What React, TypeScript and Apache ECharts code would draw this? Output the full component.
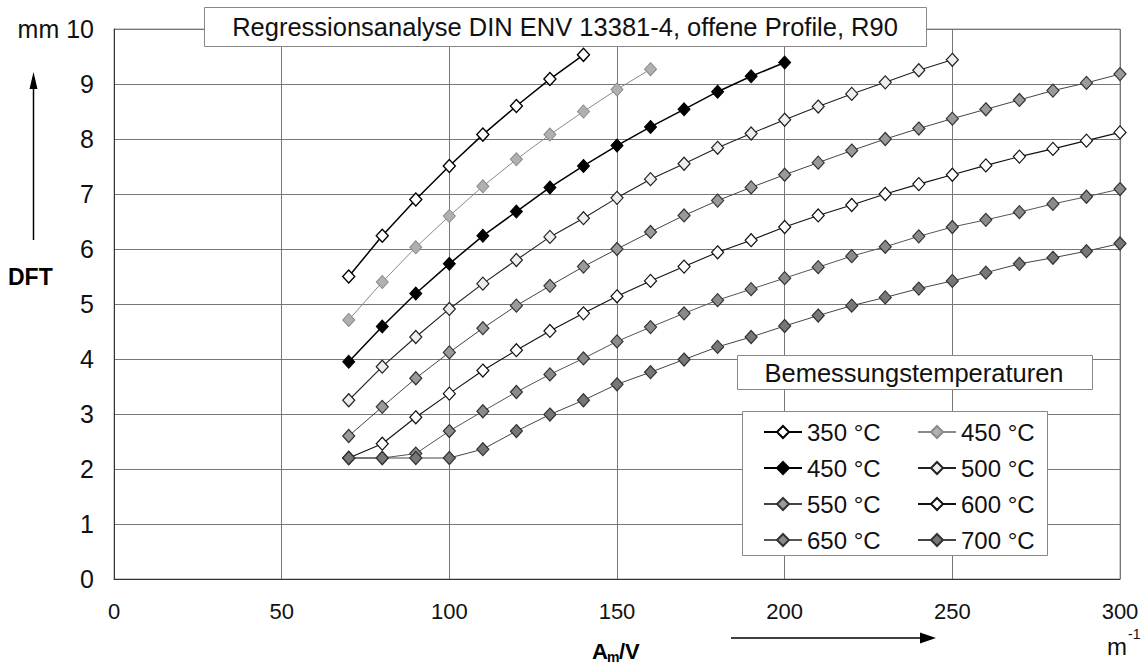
import React, { useEffect, useRef } from "react";
import * as echarts from "echarts";

// A_m/V values (m^-1)
const amv = [70, 80, 90, 100, 110, 120, 130, 140, 150, 160, 170, 180, 190, 200, 210, 220, 230, 240, 250, 260, 270, 280, 290, 300];

// DFT values (mm) per design temperature
const t350 = [5.5, 6.24, 6.9, 7.51, 8.08, 8.6, 9.09, 9.53];
const t450gray = [4.71, 5.4, 6.03, 6.6, 7.14, 7.63, 8.08, 8.5, 8.9, 9.27];
const t450black = [3.95, 4.59, 5.19, 5.73, 6.24, 6.68, 7.12, 7.51, 7.88, 8.22, 8.54, 8.86, 9.14, 9.39];
const t500 = [3.25, 3.86, 4.4, 4.91, 5.37, 5.8, 6.22, 6.56, 6.93, 7.27, 7.55, 7.84, 8.1, 8.35, 8.59, 8.82, 9.03, 9.25, 9.44];
const t550 = [2.6, 3.13, 3.65, 4.12, 4.56, 4.97, 5.33, 5.68, 6.0, 6.31, 6.61, 6.88, 7.12, 7.35, 7.57, 7.79, 8.0, 8.19, 8.37, 8.54, 8.71, 8.88, 9.02, 9.18];
const t600 = [2.2, 2.46, 2.94, 3.37, 3.79, 4.16, 4.51, 4.83, 5.14, 5.42, 5.68, 5.94, 6.16, 6.4, 6.61, 6.8, 7.0, 7.18, 7.35, 7.52, 7.68, 7.82, 7.97, 8.12];
const t650 = [2.2, 2.2, 2.28, 2.69, 3.05, 3.4, 3.72, 4.01, 4.32, 4.58, 4.83, 5.07, 5.27, 5.47, 5.67, 5.87, 6.04, 6.23, 6.4, 6.53, 6.67, 6.82, 6.95, 7.09];
const t700 = [2.2, 2.2, 2.2, 2.2, 2.36, 2.69, 2.99, 3.25, 3.54, 3.76, 3.99, 4.22, 4.4, 4.6, 4.79, 4.97, 5.12, 5.28, 5.42, 5.57, 5.73, 5.84, 5.96, 6.1];

const seriesNames = ["350 °C", "450 °C (a)", "450 °C (b)", "500 °C", "550 °C", "600 °C", "650 °C", "700 °C"];
const legendLeft = ["350 °C", "450 °C (b)", "550 °C", "650 °C"];
const legendRight = ["450 °C (a)", "500 °C", "600 °C", "700 °C"];

const title = "Regressionsanalyse DIN ENV 13381-4, offene Profile, R90";
const legendTitle = "Bemessungstemperaturen";

const FONT = "'Liberation Sans', Arial, Helvetica, sans-serif";

const styles = [
  { line: "#000", lw: 1.5, fill: "#ffffff", border: "#000", bw: 1.4 },
  { line: "#8a8a8a", lw: 1, fill: "#b0b0b0", border: "#8a8a8a", bw: 1 },
  { line: "#000", lw: 1.5, fill: "#000000", border: "#000", bw: 1 },
  { line: "#222", lw: 1.1, fill: "#eeeeee", border: "#222", bw: 1.2 },
  { line: "#444", lw: 1, fill: "#9a9a9a", border: "#333", bw: 1.2 },
  { line: "#111", lw: 1.1, fill: "#ffffff", border: "#111", bw: 1.2 },
  { line: "#555", lw: 1, fill: "#8a8a8a", border: "#333", bw: 1.2 },
  { line: "#444", lw: 1, fill: "#777777", border: "#333", bw: 1.2 },
];

const allValues = [t350, t450gray, t450black, t500, t550, t600, t650, t700];

export default function App() {
  const ref = useRef<HTMLDivElement>(null);

  useEffect(() => {
    if (!ref.current) return;
    const chart = echarts.init(ref.current, undefined, { renderer: "svg" });

    const series = allValues.map((vals, k) => ({
      name: seriesNames[k],
      type: "line",
      data: vals.map((v, i) => [amv[i], v]),
      symbol: "diamond",
      symbolSize: [12, 13],
      showSymbol: true,
      lineStyle: { color: styles[k].line, width: styles[k].lw },
      itemStyle: { color: styles[k].fill, borderColor: styles[k].border, borderWidth: styles[k].bw },
      z: 2 + k * 0.01,
    }));

    const legendCommon = {
      orient: "vertical",
      itemWidth: 38,
      itemHeight: 15,
      itemGap: 12,
      selectedMode: false,
      formatter: (n: string) => n.replace(/ \([ab]\)$/, ""),
      textStyle: { fontSize: 24, color: "#111", fontFamily: FONT },
    };

    chart.setOption({
      animation: false,
      backgroundColor: "#fff",
      textStyle: { fontFamily: FONT },
      grid: {
        left: 114,
        right: 26,
        top: 29,
        bottom: 90,
        show: true,
        borderColor: "#999",
        borderWidth: 1,
      },
      xAxis: {
        type: "value",
        min: 0,
        max: 300,
        interval: 50,
        axisLine: { show: true, lineStyle: { color: "#333", width: 1 } },
        axisTick: { show: false },
        axisLabel: { fontSize: 22, color: "#111", margin: 21, fontFamily: FONT },
        splitLine: { show: true, lineStyle: { color: "#777", width: 1 } },
      },
      yAxis: {
        type: "value",
        min: 0,
        max: 10,
        interval: 1,
        axisLine: { show: true, lineStyle: { color: "#333", width: 1 } },
        axisTick: { show: false },
        axisLabel: {
          fontSize: 25,
          color: "#111",
          margin: 20,
          fontFamily: FONT,
          formatter: (v: number) => (v === 10 ? "mm 10" : String(v)),
        },
        splitLine: { show: true, lineStyle: { color: "#777", width: 1 } },
      },
      legend: [
        { ...legendCommon, data: legendLeft, left: 758, top: 415 },
        { ...legendCommon, data: legendRight, left: 912, top: 415 },
      ],
      graphic: [
        {
          type: "rect",
          z: 3,
          shape: { x: 204.5, y: 7.5, width: 722, height: 39 },
          style: { fill: "#fff", stroke: "#888", lineWidth: 1 },
        },
        {
          type: "text",
          z: 3,
          x: 565,
          y: 27,
          style: {
            text: title,
            fontSize: 25.5,
            fontFamily: FONT,
            fill: "#111",
            align: "center",
            verticalAlign: "middle",
          },
        },
        {
          type: "rect",
          z: 3,
          shape: { x: 737.5, y: 355.5, width: 355, height: 34 },
          style: { fill: "#fff", stroke: "#888", lineWidth: 1 },
        },
        {
          type: "text",
          z: 3,
          x: 914,
          y: 373,
          style: {
            text: legendTitle,
            fontSize: 25.5,
            fontFamily: FONT,
            fill: "#111",
            align: "center",
            verticalAlign: "middle",
          },
        },
        {
          type: "rect",
          z: 3,
          shape: { x: 742.5, y: 411.5, width: 305, height: 144 },
          style: { fill: "#fff", stroke: "#888", lineWidth: 1 },
        },
        // y-axis title and arrow
        {
          type: "line",
          z: 3,
          shape: { x1: 33.5, y1: 240, x2: 33.5, y2: 86 },
          style: { stroke: "#000", lineWidth: 1.5 },
        },
        {
          type: "polygon",
          z: 3,
          shape: { points: [[29.5, 89], [33.5, 72], [37.5, 89]] },
          style: { fill: "#000" },
        },
        {
          type: "text",
          z: 3,
          x: 8,
          y: 277,
          style: {
            text: "DFT",
            fontSize: 23,
            fontWeight: "bold",
            fontFamily: FONT,
            fill: "#000",
            align: "left",
            verticalAlign: "middle",
          },
        },
        // x-axis title and arrow
        {
          type: "text",
          z: 3,
          x: 592,
          y: 651,
          style: { text: "A", fontSize: 22, fontWeight: "bold", fontFamily: FONT, fill: "#000", align: "left", verticalAlign: "middle" },
        },
        {
          type: "text",
          z: 3,
          x: 607,
          y: 657,
          style: { text: "m", fontSize: 14, fontWeight: "bold", fontFamily: FONT, fill: "#000", align: "left", verticalAlign: "middle" },
        },
        {
          type: "text",
          z: 3,
          x: 619,
          y: 651,
          style: { text: "/V", fontSize: 22, fontWeight: "bold", fontFamily: FONT, fill: "#000", align: "left", verticalAlign: "middle" },
        },
        {
          type: "line",
          z: 3,
          shape: { x1: 731, y1: 638, x2: 922, y2: 638 },
          style: { stroke: "#000", lineWidth: 1.5 },
        },
        {
          type: "polygon",
          z: 3,
          shape: { points: [[920, 632.5], [936, 638], [920, 643.5]] },
          style: { fill: "#000" },
        },
        {
          type: "text",
          z: 3,
          x: 1107,
          y: 646,
          style: { text: "m", fontSize: 24, fontFamily: FONT, fill: "#111", align: "left", verticalAlign: "middle" },
        },
        {
          type: "text",
          z: 3,
          x: 1128,
          y: 634,
          style: { text: "-1", fontSize: 14, fontFamily: FONT, fill: "#111", align: "left", verticalAlign: "middle" },
        },
      ],
      series,
    });

    return () => chart.dispose();
  }, []);

  return (
    <div
      ref={ref}
      style={{ position: "absolute", left: 0, top: 0, width: 1146, height: 669, background: "#fff" }}
    />
  );
}
